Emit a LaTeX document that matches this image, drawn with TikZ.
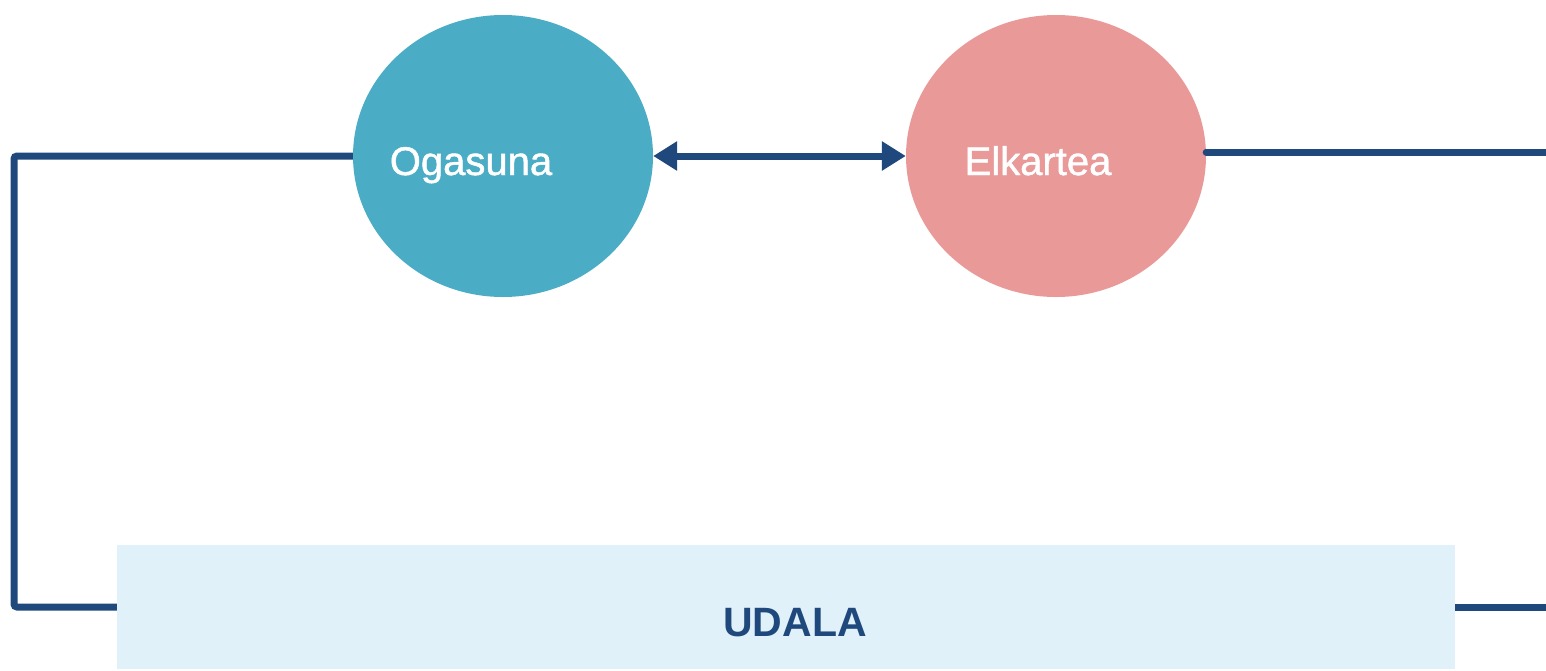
\documentclass[tikz,border=0pt]{standalone}
\usepackage{fontspec}
\setmainfont{Liberation Sans}
\newfontfamily\bubblefont{Liberation Sans}[FakeBold=1.1]
\usetikzlibrary{shapes.geometric,arrows.meta}
\definecolor{linkblue}{HTML}{1F497D}
\definecolor{hacienda}{HTML}{4BACC6}
\definecolor{society}{HTML}{EA9999}
\definecolor{townhall}{HTML}{E1F1FA}

\begin{document}
\begin{tikzpicture}[
        x=1pt,y=-1pt,
        every node/.append style={inner sep=0pt},
        bubble/.style={ellipse,minimum width=300pt,minimum height=282pt},
        bubbletext/.style={anchor=base,text=white,font=\bubblefont\fontsize{40}{40}\selectfont},
        link/.style={draw=linkblue,line width=7pt}
    ]
        \useasboundingbox (0,0) rectangle (1546,670);
        \node [bubble,fill=hacienda] (ogasuna) at (503,156) {};
        \node [bubble,fill=society] (elkartea) at (1056,156) {};
        \node [bubbletext] (ogasunatext) at (471,175) {Ogasuna};
        \node [bubbletext] (elkarteatext) at (1038,175) {Elkartea};
        \node [rectangle,fill=townhall,minimum width=1338pt,minimum height=124pt] (udala) at (786,607) {};
        \node [anchor=base,text=linkblue,font=\bfseries\fontsize{41}{41}\selectfont] (udalatext) at (795,636) {UDALA};
        \coordinate (elkout) at (1546,152);
        \coordinate (udalaout) at (1546,607);
        \draw [link,{Triangle[length=24pt,width=28pt]}-{Triangle[length=24pt,width=28pt]}]
            (ogasuna.east) -- (elkartea.west);
        \draw [link,rounded corners=3pt] (ogasuna.west) -- (14,156) |- (udala.west);
        \draw [link,line cap=round] (elkartea.east |- elkout) -- (elkout);
        \draw [link] (udala.east) -- (udalaout);
\end{tikzpicture}
\end{document}
